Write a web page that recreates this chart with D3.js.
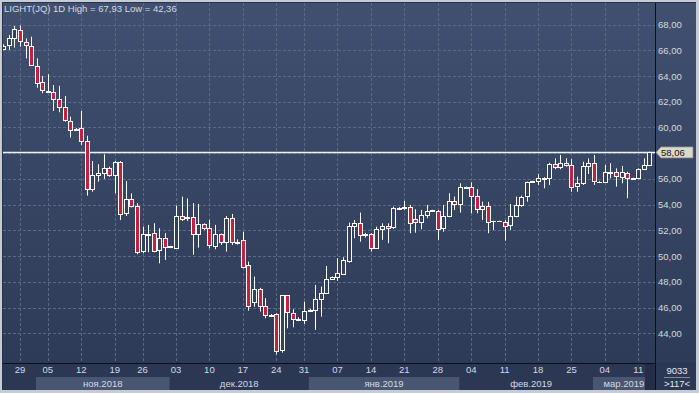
<!DOCTYPE html>
<html>
<head>
<meta charset="utf-8">
<script src="https://cdn.jsdelivr.net/npm/d3@7"></script>
<style>
	html,body{margin:0;padding:0;background:#c5ccd6;}
	svg{display:block;font-family:"Liberation Sans",Arial,sans-serif;}
</style>
</head>
<body>
<div class="top"></div>
<script>

// candles, left to right (one per trading session)
const open  = [66.10,66.41,66.93,67.57,66.66,66.35,64.80,63.51,62.80,62.78,62.19,61.57,60.53,59.90,59.94,58.95,55.22,56.25,56.44,56.83,
               56.31,57.34,53.30,54.42,53.90,50.35,51.70,51.78,50.46,51.39,50.75,50.66,53.15,52.95,53.02,51.70,52.47,52.16,50.73,51.70,
               51.08,52.94,51.10,51.26,49.29,46.38,47.42,46.12,45.45,45.48,42.65,46.96,45.61,45.15,45.09,45.80,45.76,46.64,47.11,48.20,
               48.36,48.61,49.65,52.29,52.55,51.70,51.70,50.61,52.11,52.34,52.21,53.70,53.72,53.84,52.86,52.63,53.20,53.50,53.53,52.16,
               53.12,54.29,54.05,55.35,55.40,54.70,53.69,53.92,52.72,52.70,52.68,52.40,53.12,53.98,54.62,55.75,55.79,56.02,56.05,57.16,
               56.90,57.22,57.08,55.40,55.66,57.00,57.22,55.78,55.74,56.50,56.52,56.17,56.49,56.03,56.02,56.75,57.08];
const high  = [66.45,67.18,67.88,67.93,66.93,67.05,65.37,64.00,64.13,63.30,63.24,62.44,60.84,59.95,61.28,59.36,57.39,57.14,57.91,56.95,
               57.39,57.39,55.84,54.88,54.11,52.29,52.42,52.55,52.16,51.78,50.80,53.92,54.62,54.49,54.11,54.06,52.55,52.81,52.42,51.75,
               53.12,53.28,51.30,51.90,49.57,48.40,47.53,46.73,45.50,45.56,46.96,46.98,45.87,45.25,46.46,45.90,47.76,47.63,49.23,48.42,
               49.83,49.91,52.60,52.81,53.38,51.80,51.78,52.29,52.55,52.55,53.84,53.80,54.29,53.98,53.64,53.59,53.98,53.60,53.59,53.98,
               54.88,54.62,55.66,55.40,55.74,55.20,54.23,54.21,52.75,52.75,52.81,54.05,54.62,54.70,55.79,55.85,56.38,56.13,57.26,57.60,
               57.86,57.60,57.53,56.17,57.34,57.60,57.86,55.82,57.08,57.22,56.82,57.00,56.56,56.10,56.82,57.60,58.12];
const low   = [66.00,66.02,66.20,66.28,65.37,64.85,63.09,62.65,62.73,61.28,61.18,60.45,59.20,59.80,58.64,54.70,55.00,55.78,55.99,56.17,
               54.88,52.81,53.12,53.77,50.14,50.22,50.30,50.30,49.44,49.70,50.62,50.66,52.73,52.73,50.09,50.66,52.03,50.61,50.53,50.87,
               50.35,50.87,50.90,49.05,45.76,46.07,45.69,45.17,45.35,42.36,42.50,44.39,44.47,44.95,44.73,45.75,44.26,45.30,47.06,48.15,
               48.09,48.61,49.49,51.39,51.12,51.45,50.35,50.61,51.26,51.00,52.11,53.65,53.60,51.78,51.82,52.09,52.94,53.45,51.26,51.90,
               53.02,53.59,53.38,55.25,53.33,53.33,52.81,51.78,52.03,52.65,51.20,52.03,53.02,53.84,54.23,55.70,55.53,55.27,55.53,56.75,
               56.75,56.95,55.00,55.00,55.53,56.38,55.53,55.72,55.71,56.05,55.40,55.66,54.50,55.98,55.97,56.69,57.00];
const close = [66.35,66.93,67.65,66.72,66.41,64.85,63.51,62.91,62.85,62.21,61.57,60.56,59.86,59.86,58.90,55.22,56.31,56.44,56.83,56.31,
               57.34,53.33,54.42,53.84,50.35,51.70,51.75,50.35,51.39,50.69,50.70,53.15,52.89,53.05,51.70,52.47,52.16,50.81,51.70,51.08,
               52.94,51.08,51.05,49.18,46.07,47.42,46.07,45.43,45.40,42.58,46.96,45.61,45.17,45.10,45.76,45.84,46.64,47.11,48.20,48.38,
               48.67,49.70,52.34,52.55,51.59,51.65,50.61,52.11,52.34,52.21,53.72,53.75,53.80,52.63,52.63,53.20,53.53,53.55,52.16,53.12,
               54.29,54.05,55.35,55.30,54.70,53.72,53.92,52.65,52.70,52.72,52.40,53.12,53.98,54.62,55.74,55.80,56.05,56.07,57.16,56.95,
               57.22,57.08,55.40,55.66,57.00,57.22,55.79,55.75,56.52,56.55,56.23,56.52,56.13,56.07,56.75,57.08,58.06];

// week ticks (candle index of each monday)
const tickIdx    = [3,8,14,20,25,31,37,43,49,54,60,66,72,78,84,90,96,102,108,114];
const tickLabels = ['29','05','12','19','26','03','10','17','24','31','07','14','21','28','04','11','18','25','04','11'];

// months (first candle index)
const monthStart  = [6,30,55,82,106];
const monthLabels = ['ноя.2018','дек.2018','янв.2019','фев.2019','мар.2019'];

const yTicks = [44,46,48,50,52,54,56,58,60,62,64,66,68];
const lastPrice = 58.06;

const W = 699, H = 393;
const plot = {l:3, t:3, r:655, b:363};
const n = close.length;
const fs = '9.5px';

const x = d3.scaleBand().domain(d3.range(n)).range([0.5, 652.2]);
const y = d3.scaleLinear().domain([44,68]).range([333.3,24.5]);
const cx = i => x(i) + x.bandwidth()/2;
const fmt = v => v.toFixed(2).replace('.',',');

const candles = d3.range(n).map(i => ({i, o:open[i], h:high[i], l:low[i], c:close[i]}));

const svg = d3.select('.top')
	.selectChildren('svg').data([1])
		.join('svg')
			.attr('width',W)
			.attr('height',H);

const defs = svg.append('defs');
const grad = defs.append('linearGradient').attr('id','bg').attr('x1',0).attr('x2',0).attr('y1',0).attr('y2',1);
grad.append('stop').attr('offset','0%').attr('stop-color','#415070');
grad.append('stop').attr('offset','100%').attr('stop-color','#2c3956');
defs.append('clipPath').attr('id','clip')
	.append('rect')
		.attr('x',plot.l).attr('y',plot.t)
		.attr('width',plot.r-plot.l).attr('height',plot.b-plot.t);

// frame and background
svg.append('rect').attr('width',W).attr('height',H).attr('fill','#c5ccd6');
svg.append('rect')
	.attr('x',2).attr('y',2).attr('width',694).attr('height',388)
	.attr('fill','url(#bg)');
svg.append('rect')
	.attr('x',2).attr('y',plot.b).attr('width',694).attr('height',390-plot.b)
	.attr('fill','#2b3753');

// month bands
svg.append('g').attr('class','months')
	.selectAll('g').data(monthStart.map((s,k)=>({s, e:(monthStart[k+1] ?? n), label:monthLabels[k], k})))
	.join('g')
		.call(g=>{
			g.filter(d=>d.k%2===0).append('rect')
				.attr('x',d=>x(d.s)+2)
				.attr('y',377)
				.attr('width',d=>Math.min(x(d.e-1)+x.bandwidth()+2,645)-x(d.s)-2)
				.attr('height',13)
				.attr('fill','#485671');
			g.append('text')
				.attr('x',d=>(x(d.s)+2+Math.min(x(d.e-1)+x.bandwidth()+2,645))/2 + (d.k>=3?5:0))
				.attr('y',387)
				.attr('text-anchor','middle')
				.attr('fill','#d4d9e2')
				.style('font-size',fs)
				.text(d=>d.label);
		});

svg.append('rect').attr('x',645).attr('y',plot.b).attr('width',10).attr('height',27).attr('fill','#242f47');

// grid
const grid = svg.append('g').attr('class','grid')
	.attr('stroke','#5a6985').attr('stroke-width',1).attr('stroke-dasharray','3,2');
grid.selectAll('.gy').data(yTicks)
	.join('line').attr('class','gy')
		.attr('x1',plot.l).attr('x2',plot.r)
		.attr('y1',d=>Math.round(y(d))+0.5).attr('y2',d=>Math.round(y(d))+0.5);
grid.selectAll('.gx').data(tickIdx)
	.join('line').attr('class','gx')
		.attr('x1',d=>Math.round(cx(d))+0.5).attr('x2',d=>Math.round(cx(d))+0.5)
		.attr('y1',plot.t).attr('y2',plot.b);

// last price line
svg.append('line')
	.attr('x1',plot.l).attr('x2',plot.r)
	.attr('y1',y(lastPrice)).attr('y2',y(lastPrice))
	.attr('stroke','#eef0f2').attr('stroke-width',1.5);

// candles
svg.append('g').attr('clip-path','url(#clip)')
	.selectAll('g').data(candles)
	.join('g')
		.attr('transform',d=>`translate(${Math.round(cx(d.i))+0.5},0)`)
		.call(g=>{
			g.append('line')
				.attr('y1',d=>y(d.h)).attr('y2',d=>y(d.l))
				.attr('stroke','#ffffff').attr('stroke-width',1);
			g.append('rect')
				.attr('x',-2)
				.attr('y',d=>Math.round(y(Math.max(d.o,d.c)))+0.5)
				.attr('width',4)
				.attr('height',d=>Math.max(0.01,Math.round(Math.abs(y(d.o)-y(d.c)))))
				.attr('fill',d=>d.c<d.o?'#c81f3e':'#34425f')
				.attr('stroke','#ffffff').attr('stroke-width',1);
		});

// axis lines
svg.append('line').attr('x1',plot.l).attr('x2',plot.r).attr('y1',plot.b+0.5).attr('y2',plot.b+0.5).attr('stroke','#0c0f16');
svg.append('line').attr('x1',plot.r+0.5).attr('x2',plot.r+0.5).attr('y1',plot.t).attr('y2',390).attr('stroke','#0c0f16');
svg.append('line').attr('x1',2.5).attr('x2',2.5).attr('y1',2).attr('y2',390).attr('stroke','#2a3247');
svg.append('line').attr('x1',2).attr('x2',696).attr('y1',2.5).attr('y2',2.5).attr('stroke','#2a3247');

// y axis (the label under the price tag is hidden by it)
svg.append('g')
	.attr('transform',`translate(${plot.r+1},0)`)
	.call(d3.axisRight(y).tickValues(yTicks.filter(v=>Math.abs(v-lastPrice)>1)).tickSize(0).tickPadding(2).tickFormat(fmt))
	.call(g=>g.select('.domain').remove())
	.call(g=>g.selectAll('text').attr('fill','#d4d9e2').style('font-size',fs).style('font-family','"Liberation Sans",Arial,sans-serif'));

// x axis
svg.append('g')
	.attr('transform',`translate(0,${plot.b})`)
	.call(d3.axisBottom(x).tickValues(tickIdx).tickSize(0).tickPadding(3).tickFormat((d,k)=>tickLabels[k]))
	.call(g=>g.select('.domain').remove())
	.call(g=>g.selectAll('text').attr('fill','#d4d9e2').style('font-size',fs).style('font-family','"Liberation Sans",Arial,sans-serif'));

// last price tag
const ty = y(lastPrice);
svg.append('path')
	.attr('d',`M${plot.r+1},${ty} L${plot.r+6},${ty-5.5} L693,${ty-5.5} L693,${ty+5.5} L${plot.r+6},${ty+5.5} Z`)
	.attr('fill','#d9d9cc').attr('stroke','#8a8a80').attr('stroke-width',0.8);
svg.append('text')
	.attr('x',plot.r+6).attr('y',ty+3.6)
	.attr('fill','#111').style('font-size',fs)
	.text(fmt(lastPrice));

// title
svg.append('text')
	.attr('x',4).attr('y',12)
	.attr('fill','#d4d9e2').style('font-size',fs)
	.text('LIGHT(JQ) 1D High = 67,93 Low = 42,36');

// bottom right box
svg.append('text').attr('x',677).attr('y',374).attr('text-anchor','middle')
	.attr('fill','#e4e8ee').style('font-size',fs).text('9033');
svg.append('line').attr('x1',664).attr('x2',690).attr('y1',377.5).attr('y2',377.5).attr('stroke','#7f8aa0');
svg.append('text').attr('x',677).attr('y',387).attr('text-anchor','middle')
	.attr('fill','#e4e8ee').style('font-size',fs).text('>117<');

</script>
</body>
</html>
